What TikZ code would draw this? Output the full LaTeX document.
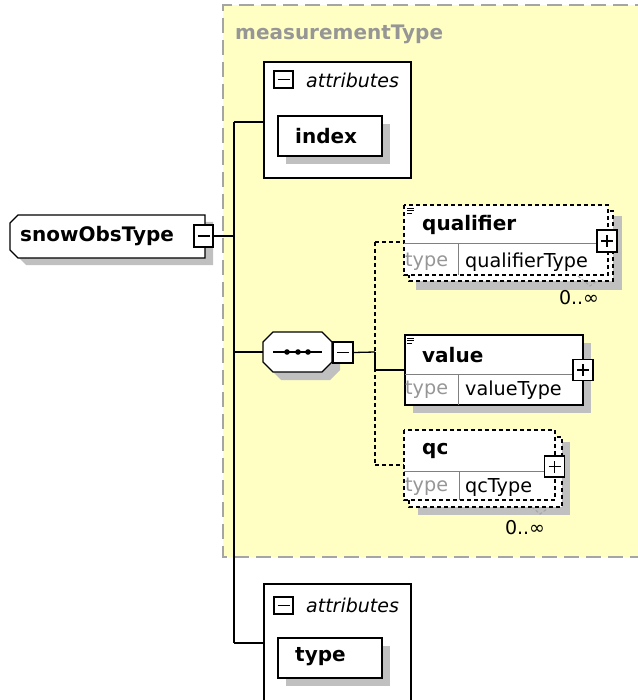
\documentclass[tikz,border=0pt]{standalone}
\usepackage{fontspec}
\setmainfont{DejaVu Sans}
\usetikzlibrary{shadows}
\definecolor{ybg}{RGB}{255,255,196}
\definecolor{bordergray}{RGB}{165,165,165}
\definecolor{shadowgray}{RGB}{192,192,192}
\definecolor{typegray}{RGB}{150,150,150}
\definecolor{divgray}{RGB}{128,128,128}
\tikzset{
  signbox/.style={draw=black, fill=white, line width=1.5pt, inner sep=0pt, minimum width=20pt, minimum height=21pt},
  minusbox/.style={signbox, path picture={\draw[line width=1.3pt] ([xshift=-6pt]path picture bounding box.center) -- ([xshift=6pt]path picture bounding box.center);}},
  plusbox/.style={signbox, path picture={\draw[line width=1.3pt] ([xshift=-6pt]path picture bounding box.center) -- ([xshift=6pt]path picture bounding box.center) ([yshift=-6pt]path picture bounding box.center) -- ([yshift=6pt]path picture bounding box.center);}},
  conn/.style={line width=1.3pt},
  dconn/.style={line width=1.3pt, dash pattern=on 4pt off 3pt},
  txt/.style={anchor=west, inner sep=0pt, font=\fontsize{19.2}{20}\selectfont},
  btxt/.style={txt, font=\fontsize{20}{22}\selectfont\bfseries},
  ttxt/.style={txt, text=typegray},
  itxt/.style={txt, font=\fontsize{19}{20}\selectfont\itshape},
  attrbox/.style={draw=black, fill=white, line width=1.2pt, inner sep=0pt},
  attrnode/.style={draw=black, fill=white, line width=1.3pt, inner sep=0pt, minimum width=104pt, minimum height=40pt,
     drop shadow={shadow xshift=8pt, shadow yshift=-8pt, fill=shadowgray, opacity=1}},
  elbox/.style={draw=black, fill=white, line width=1.4pt},
  delbox/.style={draw=black, fill=white, line width=1.4pt, dash pattern=on 4pt off 3pt},
  divline/.style={draw=divgray, line width=1pt},
  occ/.style={inner sep=0pt, font=\fontsize{19}{20}\selectfont},
  icon/.style={line width=0.8pt},
}
\begin{document}
\begin{tikzpicture}[x=1pt,y=-1pt]
\useasboundingbox (0,0) rectangle (637,700);
\fill[white] (0,0) rectangle (637,700);
% yellow complex type region
\fill[ybg] (223,5) rectangle (650,557);
\draw[bordergray, line width=2pt, dash pattern=on 15pt off 7pt] (650,5) -- (223,5) -- (223,557) -- (650,557);
\node[btxt, text=typegray] (mt) at (235,34) {measurementType};

% snowObsType
\fill[shadowgray] (18,222) -- (213,222) -- (213,265) -- (26,265) -- (18,257) -- cycle;
\draw[fill=white, line width=1.3pt] (10,223) -- (18,215) -- (205,215) -- (205,258) -- (18,258) -- (10,250) -- cycle;
\node[btxt] (snow) at (20,236) {snowObsType};
\node[minusbox, minimum width=19pt, minimum height=22pt] (snowmin) at (203.5,236) {};

% trunk
\coordinate (ttop) at (234,122);
\coordinate (tmid) at (234,236);
\coordinate (tseq) at (234,352);
\coordinate (tbot) at (234,643);
\draw[conn] (snowmin.east) -- (tmid);
\draw[conn] (ttop) -- (tbot);

% attributes 1
\node[attrbox, minimum width=147pt, minimum height=116pt] (attr1) at (337.5,120) {};
\node[minusbox, minimum width=19pt, minimum height=17pt] (a1min) at (283.5,79.5) {};
\node[itxt] (a1t) at (306,80) {attributes};
\node[attrnode] (index) at (330,136) {};
\node[btxt] (indext) at (295,136) {index};
\draw[conn] (ttop) -- (attr1.west |- ttop);

% attributes 2
\node[attrbox, minimum width=147pt, minimum height=126pt] (attr2) at (337.5,647) {};
\node[minusbox, minimum width=19pt, minimum height=17pt] (a2min) at (283.5,605.5) {};
\node[itxt] (a2t) at (306,605) {attributes};
\node[attrnode] (typebox) at (330,658) {};
\node[btxt] (typet) at (295,657) {type};
\draw[conn] (tbot) -- (attr2.west |- tbot);

% sequence compositor
\fill[shadowgray] (281,340) -- (330,340) -- (340,350) -- (340,370) -- (330,380) -- (281,380) -- (271,370) -- (271,350) -- cycle;
\draw[fill=white, line width=1.3pt] (273,332) -- (322,332) -- (332,342) -- (332,362) -- (322,372) -- (273,372) -- (263,362) -- (263,342) -- cycle;
\coordinate (seqw) at (263,352);
\draw[line width=1.3pt] (273,352) -- (322,352);
\foreach \dx in {287,298,308} \fill (\dx,352) circle (2.8pt);
\node[minusbox] (seqmin) at (343,352.5) {};
\draw[conn] (tseq) -- (seqw);
\coordinate (bus) at (375,352);
\coordinate (busq) at (375,242);
\coordinate (busv) at (375,370);
\coordinate (busc) at (375,465);
\draw[conn] (seqmin.east) -- (bus);

% qualifier element
\fill[shadowgray] (416,216) rectangle (622,290);
\draw[delbox] (409,211) rectangle (613,281);
\draw[delbox] (404,205) rectangle (608,275);
\draw[divline] (404,244) -- (608,244) (458,244) -- (458,275);
\draw[icon] (407,208) -- (414,208) (407,210.5) -- (414,210.5) (407,213) -- (412,213);
\node[btxt] (qual) at (422,225) {qualifier};
\node[ttxt] (qualty) at (405,262) {type};
\node[txt] (qualtn) at (465,262) {qualifierType};
\node[plusbox, minimum height=22pt] (qualplus) at (607,241) {};
\coordinate (qualw) at (404,242);
\draw[bordergray, line width=1pt, dash pattern=on 3pt off 2pt] (578,276) -- (590,286) -- (598,280);
\node[occ] (qualocc) at (579,298) {0..∞};

% value element
\fill[shadowgray] (413,343) rectangle (591,413);
\draw[elbox] (405,335) rectangle (583,405);
\draw[divline] (405,374) -- (583,374) (458,374) -- (458,405);
\draw[icon] (407,338) -- (414,338) (407,340.5) -- (414,340.5) (407,343) -- (412,343);
\node[btxt] (val) at (422,355) {value};
\node[ttxt] (valty) at (405,390) {type};
\node[txt] (valtn) at (465,390) {valueType};
\node[plusbox] (valplus) at (583,370) {};
\coordinate (valw) at (405,370);

% qc element
\fill[shadowgray] (418,442) rectangle (570,515);
\draw[delbox] (409,437) rectangle (562,507);
\draw[delbox] (404,430) rectangle (555,500);
\draw[divline] (404,471) -- (555,471) (459,471) -- (459,500);
\node[btxt] (qc) at (422,451) {qc};
\node[ttxt] (qcty) at (405,487) {type};
\node[txt] (qctn) at (465,487) {qcType};
\node[plusbox] (qcplus) at (554.5,466.5) {};
\coordinate (qcw) at (404,465);
\draw[bordergray, line width=1pt, dash pattern=on 3pt off 2pt] (532,507) -- (540,514) -- (547,509);
\node[occ] (qcocc) at (525,528) {0..∞};

% sequence branches
\draw[dconn] (busq) -- (busc);
\draw[conn] (bus) -- (busv);
\draw[dconn] (busq) -- (qualw);
\draw[conn] (busv) -- (valw);
\draw[dconn] (busc) -- (qcw);
\end{tikzpicture}
\end{document}
